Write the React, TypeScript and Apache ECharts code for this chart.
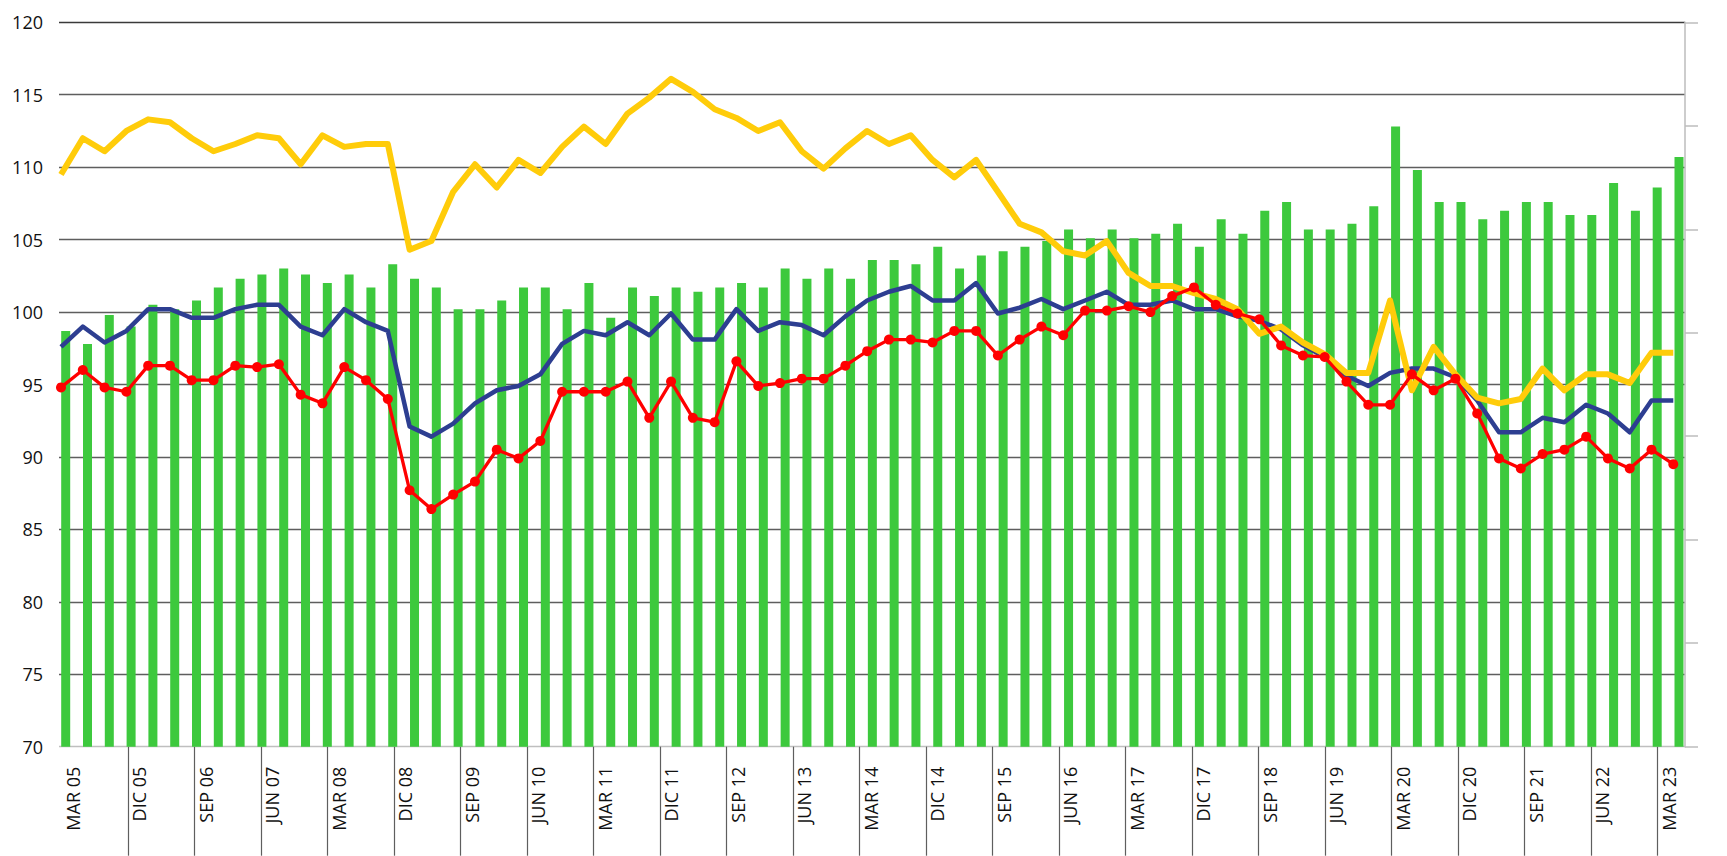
import React, { useEffect, useRef } from "react";
import * as echarts from "echarts";

// Tick labels shown on the category axis (every third quarter)
const tickLabels = [
  "MAR 05", "DIC 05", "SEP 06", "JUN 07", "MAR 08", "DIC 08", "SEP 09", "JUN 10",
  "MAR 11", "DIC 11", "SEP 12", "JUN 13", "MAR 14", "DIC 14", "SEP 15", "JUN 16",
  "MAR 17", "DIC 17", "SEP 18", "JUN 19", "MAR 20", "DIC 20", "SEP 21", "JUN 22", "MAR 23",
];
const quarterCount = 73;

// Green bars
const barValues = [
  98.7, 97.8, 99.8, 99.0, 100.5, 100.2, 100.8, 101.7, 102.3, 102.6,
  103.0, 102.6, 102.0, 102.6, 101.7, 103.3, 102.3, 101.7, 100.2, 100.2,
  100.8, 101.7, 101.7, 100.2, 102.0, 99.6, 101.7, 101.1, 101.7, 101.4,
  101.7, 102.0, 101.7, 103.0, 102.3, 103.0, 102.3, 103.6, 103.6, 103.3,
  104.5, 103.0, 103.9, 104.2, 104.5, 104.9, 105.7, 105.1, 105.7, 105.1,
  105.4, 106.1, 104.5, 106.4, 105.4, 107.0, 107.6, 105.7, 105.7, 106.1,
  107.3, 112.8, 109.8, 107.6, 107.6, 106.4, 107.0, 107.6, 107.6, 106.7,
  106.7, 108.9, 107.0, 108.6, 110.7,
];

// Dark blue line
const blueValues = [
  97.6, 99.0, 97.9, 98.7, 100.2, 100.2, 99.6, 99.6, 100.2, 100.5,
  100.5, 99.0, 98.4, 100.2, 99.3, 98.7, 92.1, 91.4, 92.3, 93.7,
  94.6, 94.9, 95.7, 97.8, 98.7, 98.4, 99.3, 98.4, 99.9, 98.1,
  98.1, 100.2, 98.7, 99.3, 99.1, 98.4, 99.7, 100.8, 101.4, 101.8,
  100.8, 100.8, 102.0, 99.9, 100.3, 100.9, 100.2, 100.8, 101.4, 100.5,
  100.5, 100.8, 100.2, 100.2, 99.7, 99.4, 98.8, 97.7, 96.9, 95.6,
  94.9, 95.8, 96.1, 96.1, 95.5, 93.9, 91.7, 91.7, 92.7, 92.4,
  93.6, 93.0, 91.7, 93.9, 93.9,
];

// Yellow line
const yellowValues = [
  109.5, 112.0, 111.1, 112.5, 113.3, 113.1, 112.0, 111.1, 111.6, 112.2,
  112.0, 110.2, 112.2, 111.4, 111.6, 111.6, 104.3, 104.9, 108.3, 110.2,
  108.6, 110.5, 109.6, 111.4, 112.8, 111.6, 113.7, 114.8, 116.1, 115.2,
  114.0, 113.4, 112.5, 113.1, 111.1, 109.9, 111.3, 112.5, 111.6, 112.2,
  110.5, 109.3, 110.5, 108.3, 106.1, 105.5, 104.2, 103.9, 104.9, 102.7,
  101.8, 101.8, 101.3, 100.9, 100.2, 98.5, 99.0, 97.9, 97.1, 95.8,
  95.8, 100.8, 94.6, 97.6, 95.7, 94.1, 93.7, 94.0, 96.1, 94.6,
  95.7, 95.7, 95.1, 97.2, 97.2,
];

// Red line with dots
const redValues = [
  94.8, 96.0, 94.8, 94.5, 96.3, 96.3, 95.3, 95.3, 96.3, 96.2,
  96.4, 94.3, 93.7, 96.2, 95.3, 94.0, 87.7, 86.4, 87.4, 88.3,
  90.5, 89.9, 91.1, 94.5, 94.5, 94.5, 95.2, 92.7, 95.2, 92.7,
  92.4, 96.6, 94.9, 95.1, 95.4, 95.4, 96.3, 97.3, 98.1, 98.1,
  97.9, 98.7, 98.7, 97.0, 98.1, 99.0, 98.4, 100.1, 100.1, 100.4,
  100.0, 101.1, 101.7, 100.5, 99.9, 99.5, 97.7, 97.0, 96.9, 95.2,
  93.6, 93.6, 95.7, 94.6, 95.4, 93.0, 89.9, 89.2, 90.2, 90.5,
  91.4, 89.9, 89.2, 90.5, 89.5,
];

const Y_MIN = 70;
const Y_MAX = 120;
const Y_STEP = 5;

const FONT = "'Open Sans', 'Noto Sans', sans-serif";

export default function App() {
  const ref = useRef<HTMLDivElement>(null);

  useEffect(() => {
    if (!ref.current) return;
    const chart = echarts.init(ref.current, undefined, { renderer: "svg" });

    const pointIds = barValues.map((_, i) => "p" + i);
    const quarterIds = Array.from({ length: quarterCount }, (_, i) => "q" + i);
    const top = 22.3;
    const bottom = 109.3;
    const splitCount = (Y_MAX - Y_MIN) / Y_STEP + 1;
    const splitColors = Array.from({ length: splitCount }, (_, i) =>
      i === 0 ? "#BFBFBF" : i === splitCount - 1 ? "#3a3a3a" : "#5e5e5e"
    );
    const hiddenY = (gridIndex: number) => ({
      gridIndex,
      type: "value",
      min: Y_MIN,
      max: Y_MAX,
      interval: Y_STEP,
      show: false,
      splitLine: { show: false },
    });

    chart.setOption({
      animation: false,
      backgroundColor: "#ffffff",
      textStyle: { fontFamily: FONT },
      grid: [
        { left: 59, right: 42, top, bottom },
        { left: 61, right: 53.7, top, bottom },
        { left: 54.8, right: 37.1, top, bottom },
        { left: 61.5, right: 69.3, top, bottom },
      ],
      xAxis: [
        { gridIndex: 0, type: "category", data: pointIds, show: false },
        { gridIndex: 1, type: "category", data: pointIds, boundaryGap: false, show: false },
        { gridIndex: 2, type: "category", data: pointIds, boundaryGap: true, show: false },
        {
          gridIndex: 3,
          type: "category",
          data: quarterIds,
          boundaryGap: false,
          axisLine: { show: false },
          axisTick: {
            show: true,
            interval: (i: number) => i > 0 && i % 3 === 0,
            length: 109,
            lineStyle: { color: "#5e5e5e", width: 1.2 },
          },
          axisLabel: {
            interval: 2,
            rotate: 90,
            margin: 20,
            verticalAlign: "top",
            padding: [2, 0, 0, 0],
            fontSize: 18,
            color: "#111111",
            fontFamily: FONT,
            formatter: (_v: string, i: number) => (i % 3 === 0 ? tickLabels[i / 3] : ""),
          },
          splitLine: { show: false },
        },
      ],
      yAxis: [
        {
          gridIndex: 0,
          type: "value",
          min: Y_MIN,
          max: Y_MAX,
          interval: Y_STEP,
          axisLine: { show: false },
          axisTick: { show: false },
          axisLabel: { margin: 16, fontSize: 18, color: "#111111", fontFamily: FONT },
          splitLine: { show: true, lineStyle: { color: splitColors, width: 1.3 } },
        },
        {
          gridIndex: 0,
          type: "value",
          position: "right",
          min: 0,
          max: 7,
          interval: 1,
          axisLine: { show: true, lineStyle: { color: "#BDBDBD", width: 1.5 } },
          axisTick: { show: true, length: 13, lineStyle: { color: "#BDBDBD", width: 1.5 } },
          axisLabel: { show: false },
          splitLine: { show: false },
        },
        hiddenY(1),
        hiddenY(2),
        hiddenY(3),
      ],
      series: [
        {
          type: "bar",
          xAxisIndex: 2,
          yAxisIndex: 3,
          data: barValues,
          barWidth: 9,
          itemStyle: { color: "#3DC93D" },
          z: 1,
        },
        {
          type: "line",
          xAxisIndex: 1,
          yAxisIndex: 2,
          data: blueValues,
          symbol: "none",
          clip: false,
          lineStyle: { color: "#2D3E91", width: 4.5, join: "round" },
          z: 3,
        },
        {
          type: "line",
          xAxisIndex: 1,
          yAxisIndex: 2,
          data: yellowValues,
          symbol: "none",
          clip: false,
          lineStyle: { color: "#FFCC0A", width: 6, join: "round" },
          z: 4,
        },
        {
          type: "line",
          xAxisIndex: 1,
          yAxisIndex: 2,
          data: redValues,
          symbol: "circle",
          symbolSize: 10,
          clip: false,
          itemStyle: { color: "#FF0000", borderWidth: 0 },
          lineStyle: { color: "#FF0000", width: 3.3, join: "round" },
          z: 5,
        },
      ],
    });

    return () => {
      chart.dispose();
    };
  }, []);

  return (
    <div
      ref={ref}
      style={{ position: "fixed", left: 0, top: 0, width: 1727, height: 856, background: "#ffffff" }}
    />
  );
}
